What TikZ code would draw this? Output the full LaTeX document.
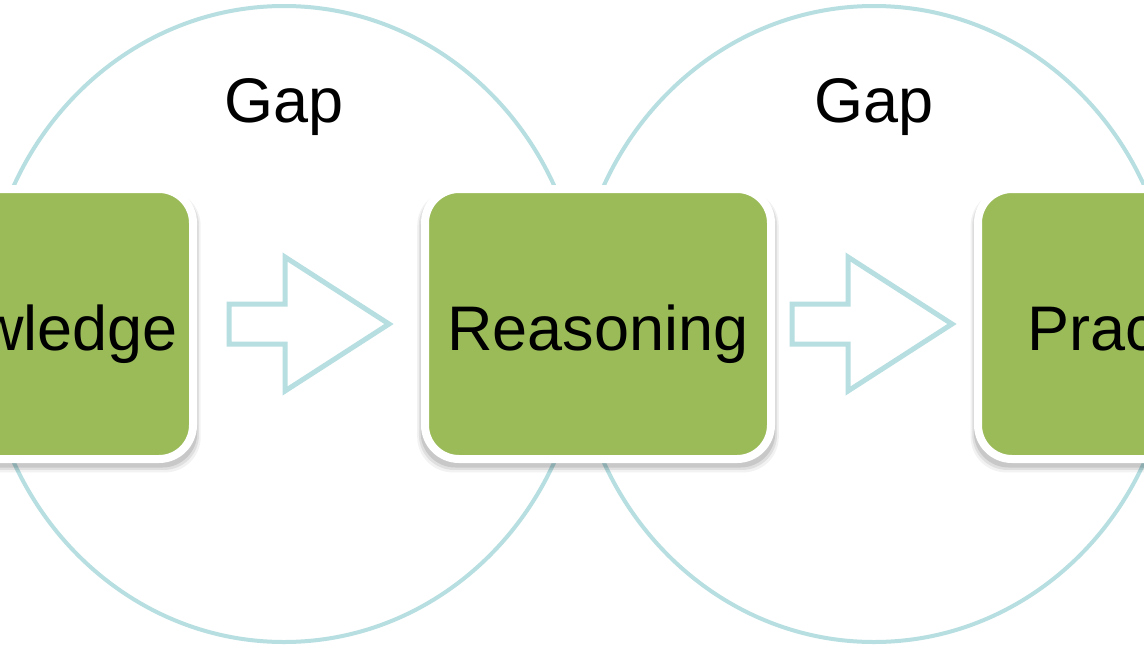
\documentclass[tikz,border=0pt]{standalone}
\usepackage{fontspec}
\setmainfont{Liberation Sans}
\usetikzlibrary{shadows}
\definecolor{ringblue}{RGB}{183,222,225}
\definecolor{boxgreen}{RGB}{155,187,89}
\tikzset{
  ring/.style={draw=ringblue, line width=4pt},
  stagebox/.style={rectangle, rounded corners=34pt, fill=boxgreen, draw=white,
    line width=8pt, minimum height=270pt, inner sep=0pt, text=black,
    text height=52pt, text depth=0pt,
    font=\fontsize{63}{75}\selectfont,
    drop shadow={shadow xshift=0pt, shadow yshift=-7pt, shadow scale=1.045, opacity=0.05, fill=black},
    drop shadow={shadow xshift=0pt, shadow yshift=-6pt, shadow scale=1.035, opacity=0.08, fill=black},
    drop shadow={shadow xshift=0pt, shadow yshift=-5pt, shadow scale=1.025, opacity=0.10, fill=black}},
  gaplabel/.style={anchor=base, inner sep=0pt, font=\fontsize{63}{75}\selectfont},
  pics/blockarrow/.style={code={
    \draw[draw=ringblue, line width=5pt, line join=miter, fill=white]
      (0,-20) -- (56,-20) -- (56,-67) -- (160,0) -- (56,67) -- (56,20) -- (0,20) -- cycle;
  }}
}
\begin{document}
\begin{tikzpicture}[x=1pt, y=-1pt]
  \useasboundingbox (0,0) rectangle (1144,649);
  \clip (0,0) rectangle (1144,649);
  \fill[white] (0,0) rectangle (1144,649);

  % the two overlapping gap rings
  \draw[ring] (284,324) ellipse [x radius=300, y radius=318];
  \draw[ring] (874,324) ellipse [x radius=300, y radius=318];

  \node[gaplabel] (gap1) at (284,122) {Gap};
  \node[gaplabel] (gap2) at (874,122) {Gap};

  % stages
  \node[stagebox, minimum width=342pt] (knowledge) at (22,324) {Knowledge};
  \node[stagebox, minimum width=346pt] (reasoning) at (598,324) {Reasoning};
  \node[stagebox, minimum width=326pt] (practice) at (1141,324) {Practice};

  % outline block arrows between stages
  \coordinate (a1) at (229,324);
  \coordinate (a2) at (792,324);
  \pic at (a1) {blockarrow};
  \pic at (a2) {blockarrow};
\end{tikzpicture}
\end{document}
